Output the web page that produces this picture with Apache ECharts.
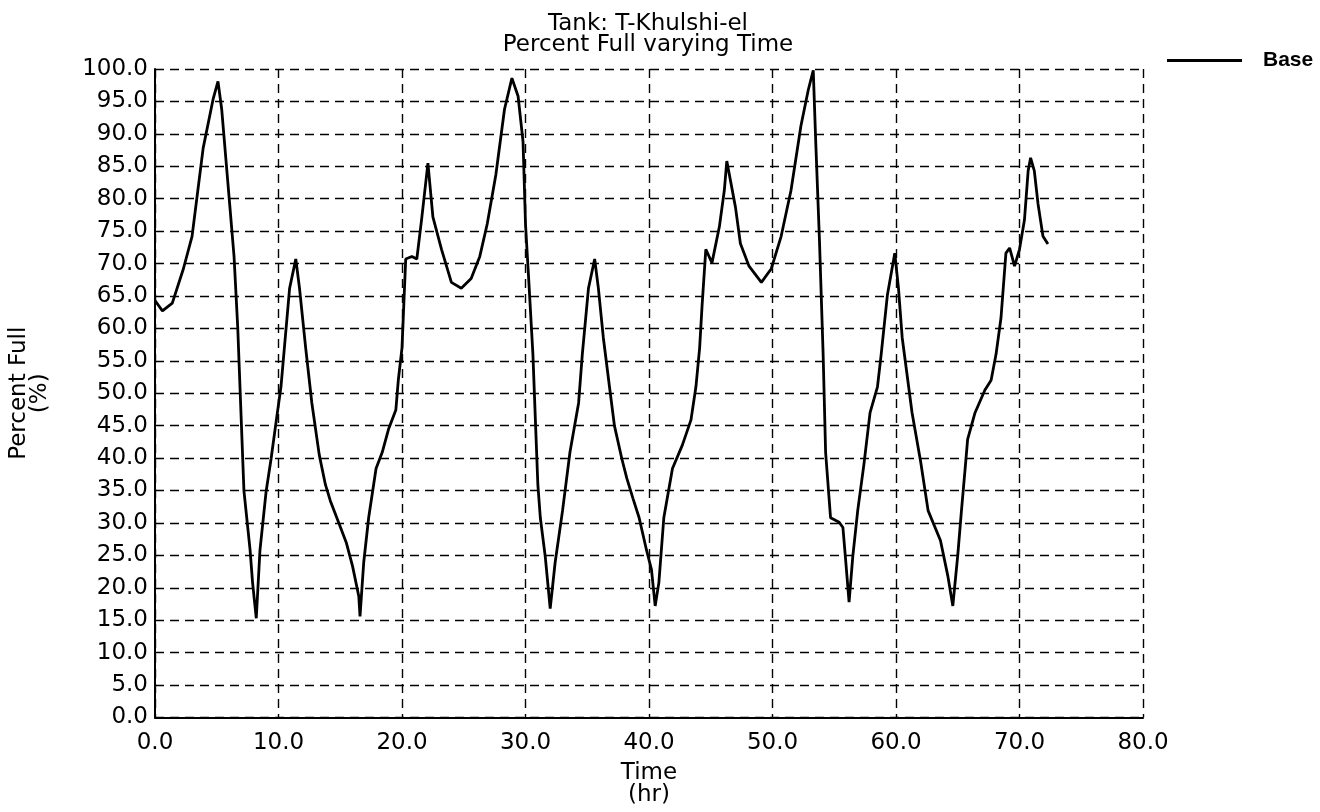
<!DOCTYPE html>
<html>
<head>
<meta charset="utf-8">
<script src="https://cdn.jsdelivr.net/npm/echarts@6/dist/echarts.min.js"></script>
<style>
html,body{margin:0;padding:0;background:#fff;}
#chart{width:1320px;height:812px;}
</style>
</head>
<body>
<div id="chart"></div>
<script>
const titleLines = ['Tank: T-Khulshi-el', 'Percent Full varying Time'];
const seriesName = 'Base';
const xAxisName = 'Time\n(hr)';
const yAxisName = 'Percent Full\n(%)';
const timeHr = [0, 0.6, 1.4, 2.3, 3.0, 3.9, 4.7, 5.1, 5.4, 6.0, 6.4, 6.7, 7.0, 7.2, 7.7, 7.9, 8.2, 8.5, 9.0, 9.4, 9.8, 10.2, 10.9, 11.4, 11.7, 12.2, 12.7, 13.3, 13.8, 14.2, 14.9, 15.5, 16.0, 16.5, 16.6, 16.9, 17.3, 17.9, 18.4, 18.9, 19.5, 19.7, 20.0, 20.3, 20.8, 21.2, 21.6, 22.1, 22.5, 23.2, 24.0, 24.8, 25.6, 26.3, 26.9, 27.6, 28.3, 28.9, 29.4, 29.8, 30.0, 30.3, 30.6, 30.8, 31.0, 31.2, 31.6, 32.0, 32.4, 33.0, 33.6, 34.3, 34.6, 35.1, 35.6, 35.9, 36.3, 36.8, 37.2, 37.8, 38.2, 38.7, 39.2, 39.8, 40.2, 40.5, 40.8, 41.2, 41.9, 42.7, 43.4, 43.8, 44.1, 44.3, 44.6, 45.1, 45.7, 46.1, 46.3, 47.0, 47.4, 48.1, 49.1, 49.9, 50.7, 51.5, 52.3, 52.9, 53.3, 53.5, 53.8, 54.1, 54.3, 54.7, 55.4, 55.7, 55.9, 56.2, 56.5, 56.9, 57.4, 57.9, 58.5, 58.8, 59.3, 59.9, 60.2, 60.5, 61.3, 62.0, 62.6, 63.6, 64.2, 64.6, 65.0, 65.3, 65.6, 65.8, 66.4, 67.2, 67.7, 68.1, 68.5, 68.9, 69.2, 69.6, 70.0, 70.4, 70.7, 70.9, 71.2, 71.5, 71.9, 72.3];
const percentFull = [64.3, 62.7, 63.9, 69.2, 74.2, 87.8, 95.3, 98.1, 93.8, 80.2, 71.1, 60.1, 45.0, 35.0, 25.8, 20.8, 15.3, 25.8, 34.9, 39.9, 45.5, 51.0, 66.2, 70.7, 66.2, 57.0, 48.5, 40.5, 35.9, 33.4, 29.9, 26.9, 23.3, 18.7, 15.6, 23.9, 30.8, 38.4, 40.9, 44.4, 47.4, 52.0, 57.0, 70.7, 71.1, 70.7, 77.0, 85.5, 77.2, 72.2, 67.1, 66.2, 67.7, 71.1, 76.1, 83.7, 93.8, 98.6, 95.8, 88.8, 76.1, 66.2, 56.0, 45.9, 35.9, 30.8, 24.8, 16.8, 23.9, 31.9, 40.9, 48.5, 56.0, 66.2, 70.7, 66.2, 58.6, 51.0, 45.0, 39.9, 36.9, 33.8, 30.8, 25.8, 22.8, 17.2, 20.8, 30.8, 38.4, 42.0, 45.9, 51.0, 57.0, 63.6, 72.2, 70.1, 75.7, 81.3, 85.8, 78.7, 73.1, 69.6, 67.1, 69.2, 74.2, 81.3, 91.2, 96.8, 99.8, 88.8, 73.7, 56.0, 40.9, 30.8, 30.1, 29.3, 24.8, 17.8, 24.8, 31.9, 39.0, 47.0, 51.0, 56.0, 65.1, 71.6, 66.2, 58.6, 47.0, 39.4, 31.9, 27.3, 21.8, 17.2, 25.0, 31.9, 38.4, 42.9, 47.0, 50.5, 52.0, 56.0, 61.6, 71.6, 72.4, 69.6, 72.2, 76.7, 84.3, 86.3, 84.3, 79.2, 74.2, 73.0];

const chart = echarts.init(document.getElementById('chart'), null, {renderer: 'canvas'});
const font = 'DejaVu Sans, Verdana, sans-serif';
const gridDash = {color: '#000', width: 1.4, type: [9, 6]};
chart.setOption({
  backgroundColor: '#fff',
  animation: false,
  title: {
    text: titleLines.join('\n'),
    left: 643, top: 9, textAlign: 'center',
    textStyle: {fontFamily: font, fontSize: 23, fontWeight: 'normal', color: '#000', lineHeight: 21}
  },
  legend: {
    data: [{name: seriesName, icon: 'rect'}],
    left: 1162, top: 45,
    itemWidth: 75, itemHeight: 3,
    itemStyle: {color: '#000'},
    textStyle: {fontFamily: 'Liberation Sans, Arial, sans-serif', fontSize: 21, fontWeight: 'bold', color: '#000', padding: [0, 0, 0, 16]}
  },
  grid: {left: 144, right: 177, top: 69, bottom: 81, containLabel: false},
  xAxis: {
    type: 'value', min: 0, max: 80, interval: 10,
    name: xAxisName, nameLocation: 'middle', nameGap: 45,
    nameTextStyle: {fontFamily: font, fontSize: 23, color: '#000', lineHeight: 22},
    axisLine: {show: true, onZero: false, lineStyle: {color: '#000', width: 2}},
    axisTick: {show: false},
    axisLabel: {fontFamily: font, fontSize: 23, color: '#000', margin: 14, lineHeight: 23, formatter: v => v.toFixed(1)},
    splitLine: {show: true, lineStyle: gridDash}
  },
  yAxis: {
    type: 'value', min: 0, max: 100, interval: 5,
    name: yAxisName, nameLocation: 'middle', nameGap: 104, nameRotate: 90,
    nameTextStyle: {fontFamily: font, fontSize: 23, color: '#000', lineHeight: 21},
    axisLine: {show: true, onZero: false, lineStyle: {color: '#000', width: 2}},
    axisTick: {show: false},
    axisLabel: {fontFamily: font, fontSize: 23, color: '#000', margin: 7, formatter: v => v.toFixed(1)},
    splitLine: {show: true, lineStyle: gridDash}
  },
  series: [{
    name: seriesName,
    type: 'line',
    data: timeHr.map((t, i) => [t, percentFull[i]]),
    symbol: 'none',
    lineStyle: {color: '#000', width: 2.8},
    itemStyle: {color: '#000'}
  }]
});
</script>
</body>
</html>
